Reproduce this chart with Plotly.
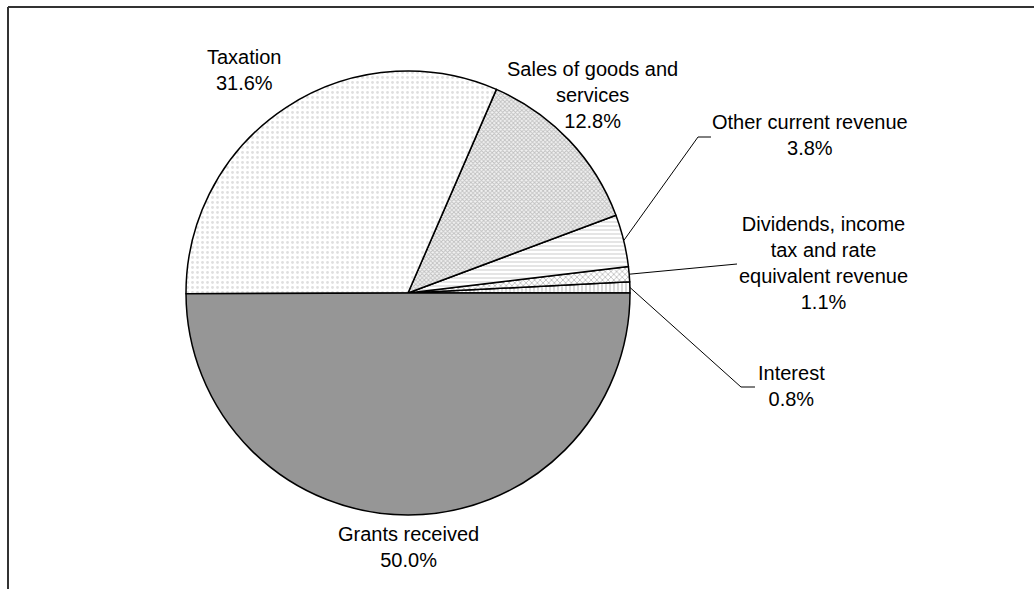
import math
import plotly.graph_objects as go

# ---- data ----
categories = ["Interest", "Dividends, income tax and rate equivalent revenue",
              "Other current revenue", "Sales of goods and services",
              "Taxation", "Grants received"]
values = [0.8, 1.1, 3.8, 12.8, 31.6, 50.0]
label_text = ["Interest", "Dividends, income<br>tax and rate<br>equivalent revenue",
              "Other current revenue", "Sales of goods and<br>services",
              "Taxation", "Grants received"]

W, H = 1034, 589
CX, CY, R = 408, 293, 222


def px(x):
    return x / W


def py(y):
    return 1 - y / H


total = sum(values)
# counterclockwise pies in plotly end the first slice at `rotation`,
# so shift by the first slice so that it starts at 3 o'clock
rotation = 90 - values[0] / total * 360

patterns = dict(
    shape=["|", "x", "-", "x", ".", ""],
    fgcolor=["#7a7a7a", "#808080", "#a8a8a8", "#8c8c8c", "#c0c0c0", "#969696"],
    bgcolor=["white", "white", "white", "#f2f2f2", "white", "#969696"],
    size=[4, 4, 4, 3, 5, 4],
    solidity=[0.3, 0.4, 0.3, 0.5, 0.25, 0.3],
    fillmode="overlay",
)

fig = go.Figure(go.Pie(
    labels=categories,
    values=values,
    sort=False,
    direction="counterclockwise",
    rotation=rotation,
    textinfo="none",
    hoverinfo="label+percent",
    marker=dict(colors=["white"] * 5 + ["#969696"],
                line=dict(color="black", width=1.5),
                pattern=patterns),
    domain=dict(x=[px(CX - R), px(CX + R)], y=[py(CY + R), py(CY - R)]),
))

# label positions (pixel centres)
label_pos = {
    "Interest": (791, 386),
    "Dividends, income tax and rate equivalent revenue": (823, 263),
    "Other current revenue": (810, 135),
    "Sales of goods and services": (592, 95),
    "Taxation": (245, 70),
    "Grants received": (408, 547),
}
# leader elbows (pixel) for the small slices
leader_end = {
    "Interest": [(741, 387), (755, 387)],
    "Dividends, income tax and rate equivalent revenue": [(737, 264)],
    "Other current revenue": [(698, 137), (711, 137)],
}

annotations = []
shapes = []
cum = 0.0
for cat, v, txt in zip(categories, values, label_text):
    mid = (cum + v / 2) / total * 2 * math.pi
    cum += v
    lx, ly = label_pos[cat]
    annotations.append(dict(
        x=px(lx), y=py(ly), xref="paper", yref="paper",
        text=f"{txt}<br>{v:.1f}%", showarrow=False,
        xanchor="center", yanchor="middle", align="center",
        font=dict(family="Liberation Sans, Arial", size=20, color="black"),
    ))
    if cat in leader_end:
        sx = CX + R * math.cos(mid)
        sy = CY - R * math.sin(mid)
        pts = [(sx, sy)] + leader_end[cat]
        path = "M " + " L ".join(f"{px(a):.5f},{py(b):.5f}" for a, b in pts)
        shapes.append(dict(type="path", path=path, xref="paper", yref="paper",
                           line=dict(color="black", width=1)))

# outer frame (top and left edges visible)
shapes.append(dict(type="line", xref="paper", yref="paper",
                   x0=px(8), y0=py(7), x1=1.01, y1=py(7),
                   line=dict(color="#333333", width=2)))
shapes.append(dict(type="line", xref="paper", yref="paper",
                   x0=px(8), y0=py(7), x1=px(8), y1=-0.01,
                   line=dict(color="#333333", width=2)))

fig.update_layout(
    width=W, height=H,
    margin=dict(l=0, r=0, t=0, b=0),
    paper_bgcolor="white", plot_bgcolor="white",
    showlegend=False,
    annotations=annotations,
    shapes=shapes,
)

fig.write_html("out.html")
